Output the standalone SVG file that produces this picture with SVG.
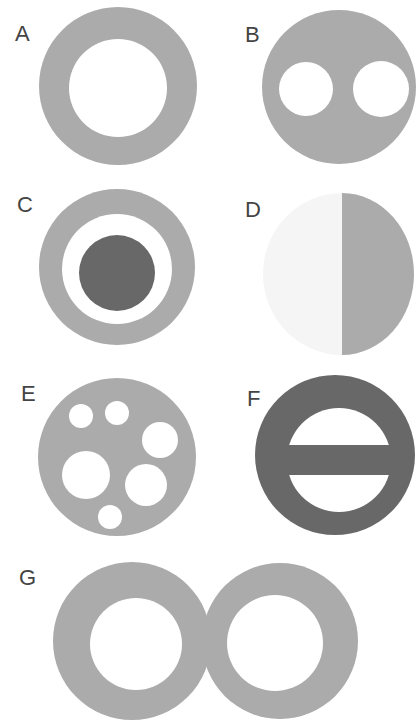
<svg xmlns="http://www.w3.org/2000/svg" width="419" height="725" viewBox="0 0 419 725">
<style>
.lbl{font-family:"Liberation Sans","DejaVu Sans",sans-serif;font-size:22px;fill:#444444}
.g{fill:#ababab}
.dk{fill:#686868}
.w{fill:#ffffff}
.lt{fill:#f5f5f5}
</style>
<rect width="419" height="725" fill="#ffffff"/>
<g id="A">
<circle class="g" cx="118" cy="86" r="79"/>
<circle class="w" cx="118" cy="88" r="49"/>
<text class="lbl" x="15" y="41">A</text>
</g>
<g id="B">
<circle class="g" cx="339" cy="87" r="77"/>
<circle class="w" cx="306" cy="89" r="27"/>
<circle class="w" cx="381" cy="89" r="28"/>
<text class="lbl" x="245" y="42">B</text>
</g>
<g id="C">
<circle class="g" cx="117" cy="267" r="78"/>
<circle class="w" cx="117" cy="269" r="55"/>
<circle class="dk" cx="117" cy="273" r="38"/>
<text class="lbl" x="17" y="212">C</text>
</g>
<g id="D">
<path class="lt" d="M342 193 A79 81 0 0 0 342 355 Z"/>
<path class="g" d="M342 193 A72 81 0 0 1 342 355 Z"/>
<text class="lbl" x="245" y="217">D</text>
</g>
<g id="E">
<circle class="g" cx="117" cy="457" r="79"/>
<circle class="w" cx="81" cy="416" r="12"/>
<circle class="w" cx="117" cy="413" r="12"/>
<circle class="w" cx="160" cy="440" r="18"/>
<circle class="w" cx="86" cy="475" r="24"/>
<circle class="w" cx="146" cy="485" r="21"/>
<circle class="w" cx="110" cy="517" r="12"/>
<text class="lbl" x="21" y="401">E</text>
</g>
<g id="F">
<circle class="dk" cx="335" cy="455" r="80"/>
<circle class="w" cx="339" cy="460" r="52"/>
<rect class="dk" x="280" y="445" width="120" height="30"/>
<text class="lbl" x="247" y="406">F</text>
</g>
<g id="G">
<circle class="g" cx="132" cy="641" r="79"/>
<circle class="g" cx="280" cy="641" r="78"/>
<circle class="w" cx="136" cy="644" r="46"/>
<circle class="w" cx="275" cy="643" r="48"/>
<text class="lbl" x="19" y="585">G</text>
</g>
</svg>
